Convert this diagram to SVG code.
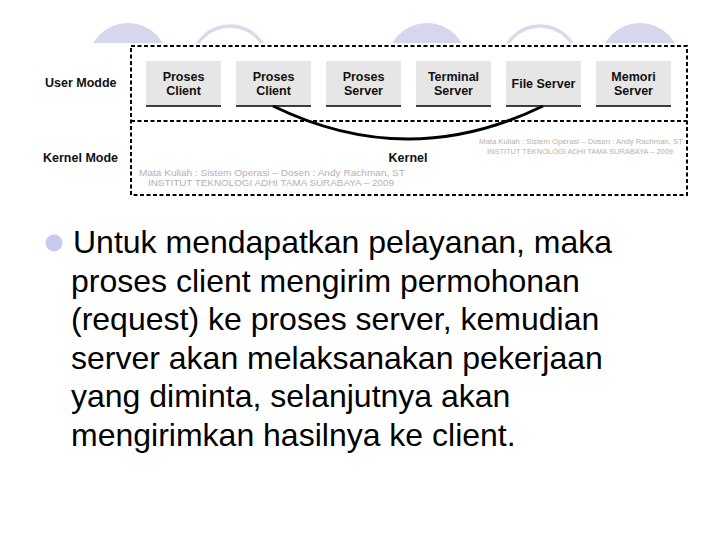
<svg xmlns="http://www.w3.org/2000/svg" width="720" height="540" viewBox="0 0 720 540">
  <style>
    .lbl { font-family: "Liberation Sans", Arial, sans-serif; font-weight: bold; font-size: 12.5px; fill: #111; }
    .box { fill: #e6e6e6; }
    .boxline { stroke: #000; stroke-width: 1.5; }
    .dash { fill: none; stroke: #000; stroke-width: 2; stroke-dasharray: 4 2.5; }
    .wm { font-family: "Liberation Sans", Arial, sans-serif; fill: #b2b2b2; }
    .body { font-family: "Liberation Sans", Arial, sans-serif; font-size: 32px; fill: #000; }
    .dome { fill: #d6d6ec; }
    .ring { fill: none; stroke: #dadaee; stroke-width: 3.5; }
  </style>
  <defs>
    <clipPath id="top">
      <rect x="0" y="0" width="720" height="43"/>
    </clipPath>
  </defs>
  <rect width="720" height="540" fill="#fff"/>

  <g id="decor" clip-path="url(#top)">
    <circle class="dome" cx="128" cy="63" r="40"/>
    <circle class="ring" cx="230" cy="64" r="38"/>
    <circle class="dome" cx="427" cy="63" r="40"/>
    <circle class="ring" cx="540" cy="64" r="38"/>
    <circle class="dome" cx="640" cy="63" r="40"/>
  </g>

  <g id="frame">
    <rect class="dash" x="131" y="46" width="556" height="149"/>
    <line class="dash" x1="131" y1="121" x2="687" y2="121"/>
  </g>

  <g id="labels">
    <text class="lbl" x="45" y="87">User Modde</text>
    <text class="lbl" x="43" y="162">Kernel Mode</text>
  </g>

  <g id="watermarks">
    <text class="wm" x="139" y="176" font-size="9.5" textLength="266" lengthAdjust="spacingAndGlyphs">Mata Kuliah : Sistem Operasi – Dosen : Andy Rachman, ST</text>
    <text class="wm" x="148" y="186" font-size="9.5" textLength="246" lengthAdjust="spacingAndGlyphs">INSTITUT TEKNOLOGI ADHI TAMA SURABAYA – 2009</text>
    <text class="wm" x="479" y="144" font-size="7.2" textLength="204" lengthAdjust="spacingAndGlyphs">Mata Kuliah : Sistem Operasi – Dosen : Andy Rachman, ST</text>
    <text class="wm" x="487" y="154" font-size="7.2" textLength="186" lengthAdjust="spacingAndGlyphs">INSTITUT TEKNOLOGI ADHI TAMA SURABAYA – 2009</text>
  </g>

  <g id="node-client1">
    <rect class="box" x="146" y="61" width="75" height="45"/>
    <line class="boxline" x1="146" y1="106" x2="221" y2="106"/>
    <text class="lbl" x="183.5" y="81" text-anchor="middle">Proses</text>
    <text class="lbl" x="183.5" y="95" text-anchor="middle">Client</text>
  </g>
  <g id="node-client2">
    <rect class="box" x="236" y="61" width="75" height="45"/>
    <line class="boxline" x1="236" y1="106" x2="311" y2="106"/>
    <text class="lbl" x="273.5" y="81" text-anchor="middle">Proses</text>
    <text class="lbl" x="273.5" y="95" text-anchor="middle">Client</text>
  </g>
  <g id="node-server">
    <rect class="box" x="326" y="61" width="75" height="45"/>
    <line class="boxline" x1="326" y1="106" x2="401" y2="106"/>
    <text class="lbl" x="363.5" y="81" text-anchor="middle">Proses</text>
    <text class="lbl" x="363.5" y="95" text-anchor="middle">Server</text>
  </g>
  <g id="node-terminal">
    <rect class="box" x="416" y="61" width="75" height="45"/>
    <line class="boxline" x1="416" y1="106" x2="491" y2="106"/>
    <text class="lbl" x="453.5" y="81" text-anchor="middle">Terminal</text>
    <text class="lbl" x="453.5" y="95" text-anchor="middle">Server</text>
  </g>
  <g id="node-file">
    <rect class="box" x="506" y="61" width="75" height="45"/>
    <line class="boxline" x1="506" y1="106" x2="581" y2="106"/>
    <text class="lbl" x="543.5" y="88" text-anchor="middle">File Server</text>
  </g>
  <g id="node-memori">
    <rect class="box" x="596" y="61" width="75" height="45"/>
    <line class="boxline" x1="596" y1="106" x2="671" y2="106"/>
    <text class="lbl" x="633.5" y="81" text-anchor="middle">Memori</text>
    <text class="lbl" x="633.5" y="95" text-anchor="middle">Server</text>
  </g>
  <g id="node-kernel">
    <text class="lbl" x="408" y="162" text-anchor="middle">Kernel</text>
  </g>

  <g id="connectors">
    <path d="M273,106 Q408,172 543,106" fill="none" stroke="#000" stroke-width="3"/>
  </g>

  <g id="bullet">
    <circle cx="54" cy="243" r="8.5" fill="#c9c9ee"/>
    <text class="body" x="73" y="253">Untuk mendapatkan pelayanan, maka</text>
    <text class="body" x="71" y="291.5">proses client mengirim permohonan</text>
    <text class="body" x="71" y="330">(request) ke proses server, kemudian</text>
    <text class="body" x="71" y="368.5">server akan melaksanakan pekerjaan</text>
    <text class="body" x="71" y="407">yang diminta, selanjutnya akan</text>
    <text class="body" x="71" y="445.5">mengirimkan hasilnya ke client.</text>
  </g>
</svg>
